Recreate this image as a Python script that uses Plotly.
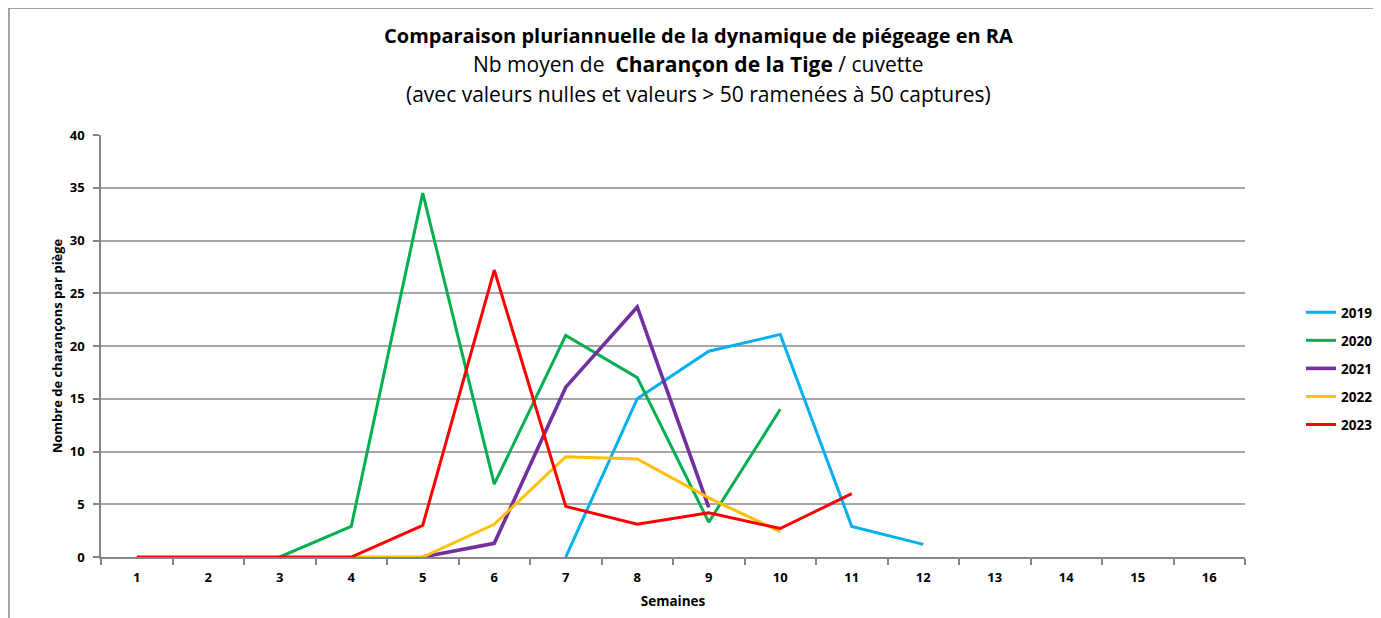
import plotly.graph_objects as go

weeks = list(range(1, 17))
week_labels = [str(w) for w in weeks]

years = ["2019", "2020", "2021", "2022", "2023"]
colors = ["#00B0F0", "#00B050", "#7030A0", "#FFC000", "#FF0000"]
widths = [3, 3, 3.6, 3, 3]

x_2019 = [7, 8, 9, 10, 11, 12]
y_2019 = [0, 15.0, 19.5, 21.1, 2.9, 1.2]

x_2020 = [3, 4, 5, 6, 7, 8, 9, 10]
y_2020 = [0, 2.9, 34.5, 6.9, 21.0, 17.0, 3.3, 14.0]

x_2021 = [5, 6, 7, 8, 9]
y_2021 = [0, 1.3, 16.1, 23.7, 4.7]

x_2022 = [4, 5, 6, 7, 8, 9, 10]
y_2022 = [0, 0, 3.1, 9.5, 9.3, 5.6, 2.4]

x_2023 = [1, 2, 3, 4, 5, 6, 7, 8, 9, 10, 11]
y_2023 = [0, 0, 0, 0, 3.0, 27.2, 4.8, 3.1, 4.2, 2.7, 6.0]

xs = [x_2019, x_2020, x_2021, x_2022, x_2023]
ys = [y_2019, y_2020, y_2021, y_2022, y_2023]

FONT = "Open Sans"
OFF = 8  # page offset of the plot div

fig = go.Figure()
for name, c, w, x, y in zip(years, colors, widths, xs, ys):
    fig.add_trace(go.Scatter(x=x, y=y, mode="lines", name=name, legendgroup=name,
                             line=dict(color=c, width=w)))

W, H = 1381 - OFF, 618 - OFF
# plot area in reference pixel coords
PX0, PX1, PY0, PY1 = 101, 1245, 135, 557
L, R, T, B = PX0 - OFF, (1381 - OFF) - (PX1 - OFF), PY0 - OFF, (618 - OFF) - (PY1 - OFF)
pw, ph = PX1 - PX0, PY1 - PY0

def px_x(p):
    return (p - PX0) / pw

def px_y(p):
    return (PY1 - p) / ph

fig.update_layout(
    width=W, height=H,
    margin=dict(l=L, r=R, t=T, b=B, autoexpand=False),
    paper_bgcolor="white", plot_bgcolor="white",
    font=dict(family=FONT, color="black"),
    showlegend=True,
    legend=dict(x=px_x(1301), y=px_y(297), xanchor="left", yanchor="top",
                font=dict(family=FONT, size=13.5, color="black", weight="bold"),
                tracegroupgap=7.5, itemwidth=30, bgcolor="rgba(0,0,0,0)"),
    xaxis=dict(range=[0.5, 16.5], tickmode="array", tickvals=weeks, ticktext=week_labels,
               ticks="", showgrid=False, showline=True, linecolor="#868686", linewidth=1.5,
               tickfont=dict(family=FONT, size=13, color="black", weight="bold"),
               ticklabelstandoff=8,
               zeroline=False,
               minor=dict(tickmode="array", tickvals=[w + 0.5 for w in [0] + weeks],
                          ticks="outside", ticklen=6, tickcolor="#868686", tickwidth=1.5,
                          showgrid=False),
               title=dict(text="Semaines", font=dict(family=FONT, size=13.5, weight="bold"),
                          standoff=11)),
    yaxis=dict(range=[0, 40], tickmode="linear", tick0=0, dtick=5,
               ticks="outside", ticklen=6, tickcolor="#868686", tickwidth=1.5,
               showgrid=True, gridcolor="#A6A6A6", gridwidth=1.5,
               showline=True, linecolor="#868686", linewidth=1.5, zeroline=False,
               tickfont=dict(family=FONT, size=13, color="black", weight="bold"),
               ticklabelstandoff=6,
               title=dict(text="Nombre de charançons par piège",
                          font=dict(family=FONT, size=13, weight="bold"), standoff=4)),
)

TITLE_X = px_x(698)
fig.add_annotation(text="<b>Comparaison pluriannuelle de la dynamique de piégeage en RA</b>",
                   x=TITLE_X, y=px_y(35), xref="paper", yref="paper", xanchor="center",
                   yanchor="middle", showarrow=False, font=dict(family=FONT, size=20))
fig.add_annotation(text="Nb moyen de  <b>Charançon de la Tige</b> / cuvette",
                   x=TITLE_X, y=px_y(64), xref="paper", yref="paper", xanchor="center",
                   yanchor="middle", showarrow=False, font=dict(family=FONT, size=21))
fig.add_annotation(text="(avec valeurs nulles et valeurs > 50 ramenées à 50 captures)",
                   x=TITLE_X, y=px_y(94), xref="paper", yref="paper", xanchor="center",
                   yanchor="middle", showarrow=False, font=dict(family=FONT, size=21))

# outer chart border (left and top edges visible)
fig.add_shape(type="line", xref="paper", yref="paper", x0=px_x(9), x1=px_x(9),
              y0=px_y(8), y1=px_y(620), line=dict(color="#868686", width=1.5))
fig.add_shape(type="line", xref="paper", yref="paper", x0=px_x(9), x1=px_x(1382),
              y0=px_y(8), y1=px_y(8), line=dict(color="#868686", width=1.5))

fig.write_html("out.html")
